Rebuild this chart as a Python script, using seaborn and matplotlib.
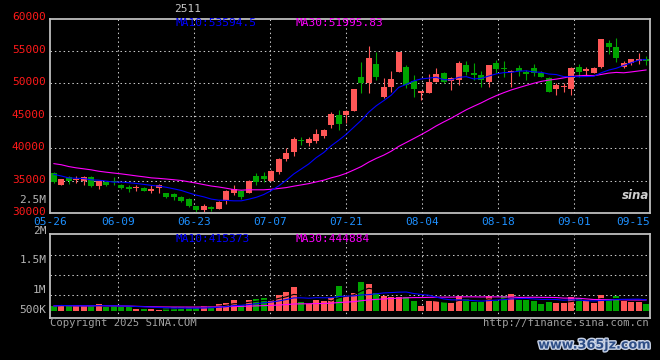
import numpy as np
import pandas as pd
import matplotlib
matplotlib.use("Agg")
import matplotlib.pyplot as plt
import matplotlib.patheffects as pe
from matplotlib.transforms import ScaledTranslation
import seaborn as sns

# ---------------- data ----------------
title = "2511"
date_labels = ["05-26", "06-09", "06-23", "07-07", "07-21", "08-04", "08-18", "09-01", "09-15"]
price_ticks = [30000, 35000, 40000, 45000, 50000, 55000, 60000]
vol_tick_labels = ["2.5M", "2M", "1.5M", "1M", "500K"]

opens = [36200, 34400, 35600, 35100, 34900, 35600, 34250, 34800, 35000, 34400,
         34100, 33900, 33900, 33500, 33900, 33150, 32900, 32550, 32250, 31150,
         30550, 30950, 30650, 31900, 33100, 33500, 33200, 35800, 35800, 35050,
         36400, 38350, 39450, 41250, 40900, 41200, 41950, 43600, 45150, 45150,
         45770, 51050, 50030, 53000, 47970, 49510, 51770, 52540, 50380, 48490,
         48540, 50280, 51560, 50430, 50540, 52850, 51560, 51310, 50280, 53100,
         52330, 51770, 52430, 51820, 52430, 51570, 50890, 49200, 49410, 49100,
         52540, 51970, 51670, 52490, 56280, 55570, 52490, 53200, 53460, 53720]
closes = [34750, 35250, 34900, 35300, 35600, 34250, 34900, 34400, 34800, 33900,
          33800, 34100, 33500, 33800, 34400, 32500, 32500, 31900, 31050, 30450,
          31150, 30650, 31800, 33450, 33750, 32500, 35000, 34850, 35300, 36550,
          38400, 39300, 41450, 41150, 41500, 42250, 42850, 45300, 43750, 45800,
          49150, 50030, 53920, 51050, 49460, 50690, 54850, 49770, 49200, 48850,
          50280, 51460, 50180, 50890, 53200, 51770, 51360, 50540, 52850, 52180,
          52180, 51970, 51970, 51410, 51570, 51050, 48740, 49770, 49610, 52430,
          51820, 52180, 52430, 56850, 55660, 53870, 53100, 53770, 53720, 53460]
highs = [36300, 35300, 35700, 35700, 35800, 35700, 35000, 35000, 35600, 34500,
         34300, 34400, 34000, 34300, 34500, 33200, 33100, 32600, 32300, 31200,
         31500, 31150, 31900, 33550, 34300, 33600, 35100, 36150, 36300, 36600,
         38500, 40000, 41800, 41800, 41800, 42950, 42950, 45550, 45900, 45900,
         49200, 53350, 55770, 54850, 50800, 51920, 54900, 52900, 51300, 48900,
         51460, 52430, 51770, 51000, 53460, 53460, 53100, 51920, 52900, 53610,
         53510, 52100, 52850, 52080, 53050, 51900, 50950, 50030, 50030, 52500,
         53050, 52590, 52590, 56900, 56690, 57000, 53460, 53800, 54640, 54230]
lows = [34700, 34300, 34500, 34700, 34400, 34000, 33800, 34200, 34400, 33800,
        33300, 33500, 33400, 33100, 33200, 32400, 32000, 31800, 31000, 30200,
        30200, 30300, 30600, 31400, 32800, 32250, 33100, 34400, 34850, 34900,
        36100, 38000, 38750, 40500, 40400, 40900, 41550, 43150, 42850, 43950,
        45700, 48500, 48600, 50540, 47720, 48650, 51700, 49260, 47970, 47460,
        48500, 50180, 50100, 49000, 49770, 51310, 50540, 49410, 49510, 51670,
        51050, 49410, 51200, 50540, 51200, 51000, 48700, 48230, 48740, 48230,
        51050, 51200, 51600, 52400, 54540, 53360, 52400, 52850, 53000, 52800]
volumes = [216e3, 262e3, 216e3, 216e3, 216e3, 216e3, 308e3, 156e3, 216e3, 156e3,
           156e3, 78e3, 78e3, 78e3, 32e3, 110e3, 156e3, 156e3, 156e3, 156e3,
           216e3, 216e3, 308e3, 368e3, 492e3, 262e3, 492e3, 538e3, 584e3, 492e3,
           722e3, 860e3, 1090e3, 400e3, 308e3, 492e3, 446e3, 584e3, 1140e3, 676e3,
           800e3, 1320e3, 1230e3, 800e3, 690e3, 644e3, 644e3, 644e3, 460e3, 230e3,
           460e3, 460e3, 386e3, 368e3, 690e3, 524e3, 414e3, 414e3, 690e3, 460e3,
           690e3, 782e3, 492e3, 492e3, 460e3, 308e3, 414e3, 368e3, 368e3, 644e3,
           598e3, 460e3, 368e3, 722e3, 552e3, 690e3, 460e3, 414e3, 414e3, 308e3]
# moving-average values before enough history exists
ma10_head = [36000, 35750, 35450, 35400, 35350, 35150, 35100, 34950, 34800]
ma30_head = [37650, 37480, 37200, 37000, 36850, 36690, 36480, 36330, 36200, 36070,
             35920, 35760, 35620, 35460, 35380, 35280, 35170, 35050, 34850, 34650,
             34420, 34200, 34050, 33860, 33650, 33560, 33620, 33620, 33620]
price_ma_text = ["MA10:53594.5", "MA30:51995.83"]
vol_ma_text = ["MA10:415373", "MA30:444884"]

# ---------------- derived table ----------------
n = len(closes)
df = pd.DataFrame({"idx": np.arange(n), "open": opens, "close": closes,
                   "high": highs, "low": lows, "vol": volumes})
df["dir"] = np.where(df["close"] >= df["open"], "up", "down")
ma10 = df["close"].rolling(10).mean().to_numpy()
ma30 = df["close"].rolling(30).mean().to_numpy()
ma10[:len(ma10_head)] = ma10_head
ma30[:len(ma30_head)] = ma30_head
df["ma10"] = ma10
df["ma30"] = ma30
df["vma5"] = df["vol"].rolling(5, min_periods=1).mean()
df["vma10"] = df["vol"].rolling(10, min_periods=1).mean()
df["vma30"] = df["vol"].rolling(30, min_periods=1).mean()

# ---------------- style ----------------
RED = "#FF5757"
GREEN = "#00A400"
BLUE = "#0000FF"
MAG = "#FF00FF"
GRID = "#C8C8C8"
SPINE = "#BEBEBE"
LBLUE = "#1E90FF"
GRAY = "#B4B4B4"

sns.set_style("dark", {"axes.facecolor": "black", "figure.facecolor": "black"})
plt.rcParams["font.family"] = ["DejaVu Sans Mono", "DejaVu Sans"]
FS = 8.0

W, H = 660, 360
fig = plt.figure(figsize=(W / 100, H / 100), dpi=100, facecolor="black")

def fx(x):
    return x / W

def fy(y):
    return 1 - y / H

ax_p = fig.add_axes([fx(50), fy(213.3), fx(600), (213.3 - 18.5) / H])
ax_v = fig.add_axes([fx(50), fy(318), fx(600), (318 - 234) / H])

xlo, xhi = -0.5, n - 0.5
grid_x = np.r_[-0.5, 8.567 + 10.133 * np.arange(len(date_labels) - 1)]
dot = (0, (1.4, 2.8))

for ax in (ax_p, ax_v):
    ax.set_facecolor("black")
    for s in ax.spines.values():
        s.set_color(SPINE)
        s.set_linewidth(1.3)
    ax.set_xlim(xlo, xhi)
    ax.grid(False)
    for gx in grid_x[1:-1]:
        ax.axvline(gx, color=GRID, linestyle=dot, linewidth=0.75, zorder=1)

# ---------------- price panel ----------------
ax_p.set_ylim(30000, 60000)
for yv in price_ticks[1:-1]:
    ax_p.axhline(yv, color=GRID, linestyle=dot, linewidth=0.75, zorder=1)

colors = np.where(df["dir"] == "up", RED, GREEN)
ax_p.vlines(df["idx"], df["low"], df["high"], colors=colors, linewidth=0.8, zorder=2)
body_h = np.maximum((df["close"] - df["open"]).abs(), 160)
body_b = np.minimum(df["open"], df["close"])
ax_p.bar(df["idx"], body_h, bottom=body_b, width=0.8, color=colors, linewidth=0, zorder=3)

sns.lineplot(data=df, x="idx", y="ma30", color=MAG, linewidth=0.8, ax=ax_p, zorder=4)
sns.lineplot(data=df, x="idx", y="ma10", color=BLUE, linewidth=0.8, ax=ax_p, zorder=5)

ax_p.set_yticks(price_ticks)
ax_p.set_yticklabels([str(v) for v in price_ticks], color="#FF1A1A", fontsize=FS)
ax_p.tick_params(axis="y", length=0, pad=3.2)
for lab in ax_p.get_yticklabels():
    lab.set_transform(lab.get_transform() + ScaledTranslation(0, 2 / 100, fig.dpi_scale_trans))
ax_p.set_xticks(grid_x)
ax_p.set_xticklabels(date_labels, color=LBLUE, fontsize=FS)
ax_p.tick_params(axis="x", length=0, pad=2.5)
xl = ax_p.get_xticklabels()
xl[-1].set_horizontalalignment("right")
ax_p.set_xlabel("")
ax_p.set_ylabel("")

# ---------------- volume panel ----------------
px_per = 46000.0
ax_v.set_ylim(-(318 - 310.7) * px_per, (310.7 - 234) * px_per)
for gy in (255.3, 275.3, 295.3):
    ax_v.axhline((310.7 - gy) * px_per, color=GRID, linestyle=dot, linewidth=0.75, zorder=1)
sns.barplot(data=df, x="idx", y="vol", hue="dir", palette={"up": RED, "down": GREEN},
            native_scale=True, dodge=False, width=0.8, legend=False, saturation=1,
            errorbar=None, linewidth=0, ax=ax_v, zorder=2)
sns.lineplot(data=df, x="idx", y="vma5", color="black", linewidth=0.8, ax=ax_v, zorder=3)
sns.lineplot(data=df, x="idx", y="vma30", color=MAG, linewidth=0.8, ax=ax_v, zorder=4)
sns.lineplot(data=df, x="idx", y="vma10", color=BLUE, linewidth=0.8, ax=ax_v, zorder=5)
ax_v.set_xlim(xlo, xhi)
ax_v.set_xticks([])
ax_v.set_yticks([])
ax_v.set_xlabel("")
ax_v.set_ylabel("")

# ---------------- texts ----------------
fig.text(fx(188), fy(9), title, color="#C8C8C8", fontsize=FS, ha="center", va="center")
fig.text(fx(175), fy(23.5), price_ma_text[0], color=BLUE, fontsize=FS, ha="left", va="center")
fig.text(fx(295), fy(23.5), price_ma_text[1], color=MAG, fontsize=FS, ha="left", va="center")
fig.text(fx(175), fy(239), vol_ma_text[0], color=BLUE, fontsize=FS, ha="left", va="center")
fig.text(fx(295), fy(239), vol_ma_text[1], color=MAG, fontsize=FS, ha="left", va="center")
for lab, yy in zip(vol_tick_labels, (200, 231, 260, 290, 310)):
    fig.text(fx(46.5), fy(yy), lab, color=GRAY, fontsize=FS, ha="right", va="center")
fig.text(fx(50), fy(323), "Copyright 2025 SINA.COM", color="#A0A0A0", fontsize=FS - 0.4,
         ha="left", va="center")
fig.text(fx(649), fy(323), "http://finance.sina.com.cn", color="#A0A0A0", fontsize=FS - 0.4,
         ha="right", va="center")
fig.text(fx(636), fy(196), "sina", color="#D0D0D0", fontsize=8.5, fontweight="bold",
         style="italic", family="DejaVu Sans", ha="center", va="center")
fig.text(fx(594), fy(345), "www.365jz.com", color="#2E4E86", fontsize=9.2, fontweight="bold",
         family="DejaVu Sans", ha="center", va="center",
         path_effects=[pe.withStroke(linewidth=2.0, foreground="#C9D3E6")])

fig.savefig("out.png", dpi=100, facecolor="black")
